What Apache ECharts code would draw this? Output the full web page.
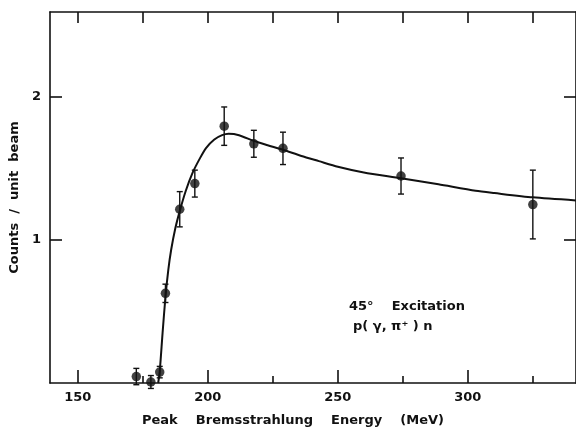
<!DOCTYPE html>
<html>
<head>
<meta charset="utf-8">
<script src="https://cdn.jsdelivr.net/npm/echarts@6/dist/echarts.min.js"></script>
<style>
html, body { margin: 0; padding: 0; background: #fff; }
#chart { width: 576px; height: 432px; }
</style>
</head>
<body>
<div id="chart"></div>
<script>
// measured points (peak energy MeV, counts / unit beam, error)
var energy = [172.5, 178.1, 181.5, 183.7, 189.2, 195.0, 206.3, 217.7, 228.9, 274.3, 325.0];
var counts = [0.045, 0.007, 0.076, 0.626, 1.213, 1.392, 1.793, 1.670, 1.638, 1.445, 1.246];
var errs   = [0.057, 0.045, 0.040, 0.064, 0.123, 0.094, 0.134, 0.094, 0.113, 0.126, 0.240];

// hand drawn curve through the points
var curveE = [180.9, 181.5, 182.6, 183.7, 184.8, 185.9, 187.5, 189.2, 191.5, 194.2, 197.0, 199.3, 202.5, 205.5, 208.0, 212.0, 217.7, 223.0, 228.9, 236.0, 242.7, 250.0, 260.0, 274.3, 288.7, 303.0, 310.2, 325.0, 342.0];
var curveY = [0.0, 0.08, 0.35, 0.60, 0.79, 0.93, 1.08, 1.20, 1.34, 1.47, 1.57, 1.64, 1.70, 1.73, 1.74, 1.73, 1.69, 1.66, 1.628, 1.585, 1.549, 1.51, 1.47, 1.43, 1.387, 1.342, 1.326, 1.296, 1.274];

var xMajor = [150, 200, 250, 300];
var xMinor = [175, 225, 275, 325];
var xTop   = [150, 175, 200, 225, 250, 275, 300, 325];
var yTicks = [1, 2];

var X_MIN = 139.3, X_MAX = 341.6, Y_MIN = 0, Y_MAX = 2.59;
var INK = '#111';
var FONT = 'DejaVu Sans';

function pts(xs, ys) {
	var out = [];
	for (var i = 0; i < xs.length; i++) out.push([xs[i], ys[i]]);
	return out;
}

var errData = [];
for (var i = 0; i < energy.length; i++) {
	errData.push([energy[i], counts[i] - errs[i], counts[i] + errs[i]]);
}

function renderErr(params, api) {
	var lo = api.coord([api.value(0), api.value(1)]);
	var hi = api.coord([api.value(0), api.value(2)]);
	var w = 3;
	var st = { stroke: INK, lineWidth: 1.4 };
	return {
		type: 'group',
		children: [
			{ type: 'line', shape: { x1: lo[0], y1: lo[1], x2: hi[0], y2: hi[1] }, style: st },
			{ type: 'line', shape: { x1: lo[0] - w, y1: lo[1], x2: lo[0] + w, y2: lo[1] }, style: st },
			{ type: 'line', shape: { x1: hi[0] - w, y1: hi[1], x2: hi[0] + w, y2: hi[1] }, style: st }
		]
	};
}

var lineStyle = { color: INK, width: 1.6 };
var labelStyle = { color: INK, fontFamily: FONT, fontWeight: 'bold', fontSize: 13 };

var option = {
	backgroundColor: '#fff',
	animation: false,
	grid: { left: 50, top: 12, right: -2, bottom: 44 },
	xAxis: [
		{
			type: 'value', position: 'bottom', min: X_MIN, max: X_MAX,
			axisLine: { show: true, lineStyle: lineStyle },
			axisTick: { show: true, inside: true, length: 13, lineStyle: lineStyle, customValues: xMajor },
			axisLabel: Object.assign({ margin: 8, customValues: xMajor }, labelStyle),
			splitLine: { show: false },
			name: 'Peak    Bremsstrahlung    Energy    (MeV)',
			nameLocation: 'middle', nameGap: 31,
			nameTextStyle: Object.assign({ padding: [0, 40, 0, 0] }, labelStyle)
		},
		{
			type: 'value', position: 'bottom', min: X_MIN, max: X_MAX,
			axisLine: { show: false },
			axisTick: { show: true, inside: true, length: 7, lineStyle: lineStyle, customValues: xMinor },
			axisLabel: { show: false },
			splitLine: { show: false }
		},
		{
			type: 'value', position: 'top', min: X_MIN, max: X_MAX,
			axisLine: { show: true, lineStyle: lineStyle },
			axisTick: { show: true, inside: true, length: 11, lineStyle: lineStyle, customValues: xTop },
			axisLabel: { show: false },
			splitLine: { show: false }
		}
	],
	yAxis: [
		{
			type: 'value', position: 'left', min: Y_MIN, max: Y_MAX,
			axisLine: { show: true, lineStyle: lineStyle },
			axisTick: { show: true, inside: true, length: 12, lineStyle: lineStyle, customValues: yTicks },
			axisLabel: Object.assign({ margin: 9, customValues: yTicks }, labelStyle),
			splitLine: { show: false },
			name: 'Counts  /  unit  beam',
			nameLocation: 'middle', nameGap: 26,
			nameTextStyle: labelStyle
		},
		{
			type: 'value', position: 'right', min: Y_MIN, max: Y_MAX,
			axisLine: { show: true, lineStyle: lineStyle },
			axisTick: { show: true, inside: true, length: 12, lineStyle: lineStyle, customValues: yTicks },
			axisLabel: { show: false },
			splitLine: { show: false }
		}
	],
	graphic: [
		{ type: 'text', left: 349, top: 300, style: { text: '45°    Excitation', fill: INK, font: 'bold 13px "DejaVu Sans"' } },
		{ type: 'text', left: 353, top: 320, style: { text: 'p( γ, π⁺ ) n', fill: INK, font: 'bold 13px "DejaVu Sans"' } }
	],
	series: [
		{
			type: 'line', data: pts(curveE, curveY), smooth: 0.25, symbol: 'none',
			lineStyle: { color: INK, width: 2 }, z: 2
		},
		{
			type: 'custom', data: errData, renderItem: renderErr,
			encode: { x: 0, y: [1, 2] }, z: 3
		},
		{
			type: 'scatter', data: pts(energy, counts), symbol: 'circle', symbolSize: 9.5,
			itemStyle: { color: INK }, z: 4
		}
	]
};

var myChart = echarts.init(document.getElementById('chart'));
myChart.setOption(option);
</script>
</body>
</html>
